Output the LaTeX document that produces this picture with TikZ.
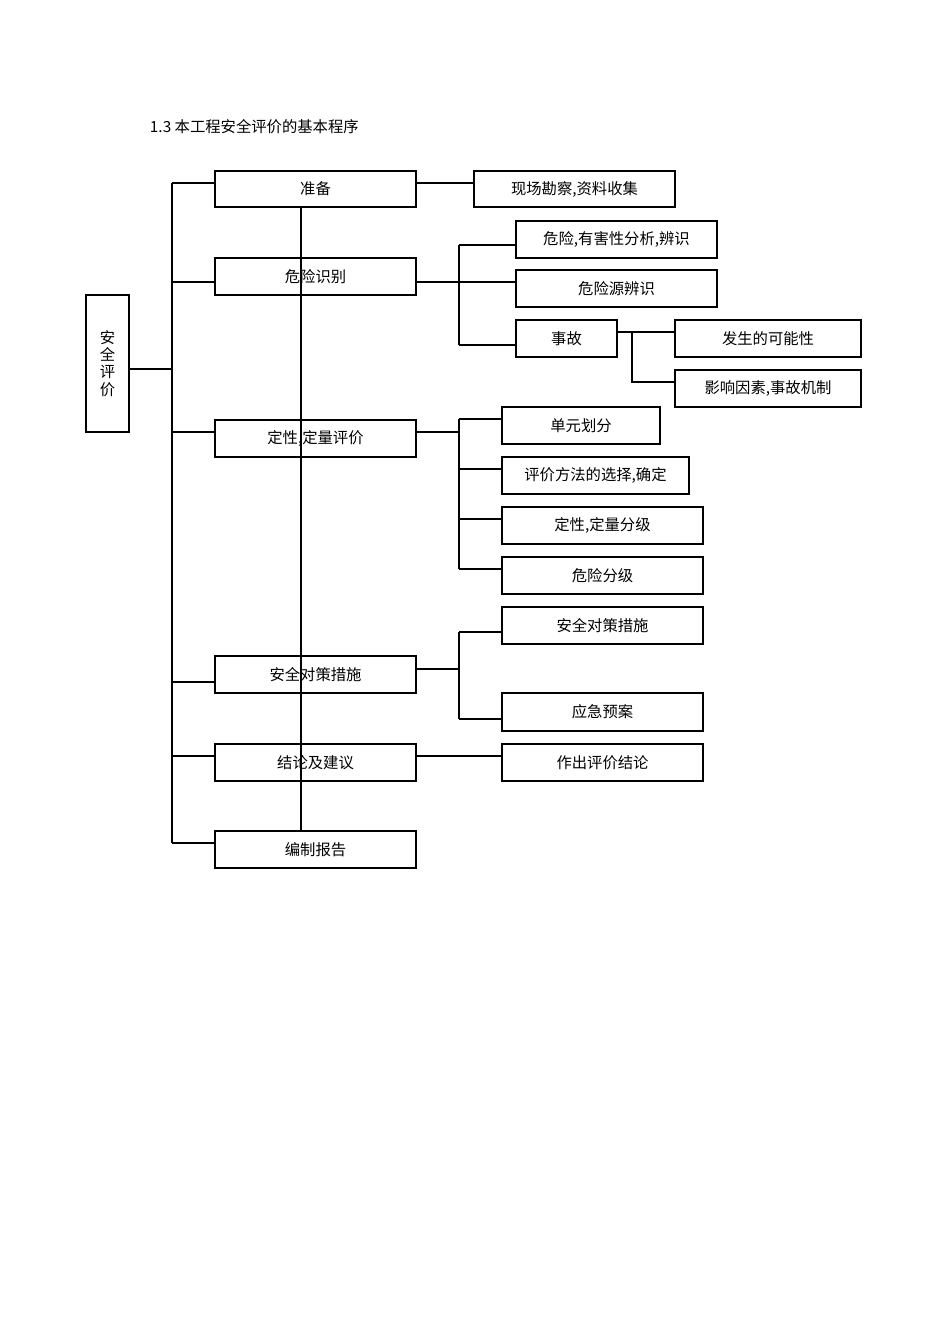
\documentclass[tikz,border=0pt]{standalone}
\usepackage{fontspec}
\setmainfont{Liberation Serif}
\newfontfamily\cjk{Noto Sans CJK SC}
\begin{document}
\begin{tikzpicture}[x=0.75pt,y=-0.75pt,line width=0.8pt,
  bx/.style={draw,inner sep=0pt,font=\cjk\fontsize{11.5}{13}\selectfont},
  ln/.style={draw}]
\useasboundingbox[fill=white] (0,0) rectangle (950,1344);
\node[anchor=west,font=\cjk\fontsize{11.5}{13}\selectfont] (title) at (145,127) {1.3 本工程安全评价的基本程序};
\newcommand\bx[6]{\node[bx,minimum width=#4*0.75pt-#2*0.75pt,minimum height=#5*0.75pt-#3*0.75pt] (#1) at ({(#2+#4)/2},{(#3+#5)/2}) {#6};}
\node[bx,minimum width=32.25pt,minimum height=102.75pt,align=center] (aq) at (107.5,363.5) {安\\全\\评\\价};
\bx{zb}{215}{171}{416}{207}{准备}
\bx{wx}{215}{258}{416}{295}{危险识别}
\bx{dx}{215}{420}{416}{457}{定性,定量评价}
\bx{dc}{215}{656}{416}{693}{安全对策措施}
\bx{jl}{215}{744}{416}{781}{结论及建议}
\bx{bz}{215}{831}{416}{868}{编制报告}
\bx{xc}{474}{171}{675}{207}{现场勘察,资料收集}
\bx{yh}{516}{221}{717}{258}{危险,有害性分析,辨识}
\bx{wy}{516}{270}{717}{307}{危险源辨识}
\bx{sg}{516}{320}{617}{357}{事故}
\bx{fs}{675}{320}{861}{357}{发生的可能性}
\bx{yx}{675}{370}{861}{407}{影响因素,事故机制}
\bx{dy}{502}{407}{660}{444}{单元划分}
\bx{pj}{502}{457}{689}{494}{评价方法的选择,确定}
\bx{fj}{502}{507}{703}{544}{定性,定量分级}
\bx{wf}{502}{557}{703}{594}{危险分级}
\bx{aqc}{502}{607}{703}{644}{安全对策措施}
\bx{yj}{502}{693}{703}{731}{应急预案}
\bx{zc}{502}{744}{703}{781}{作出评价结论}
% spine
\draw (172,183) -- (172,843);
\draw (aq.east |- 0,369) -- (172,369);
\foreach \n/\y in {zb/183,wx/282,dx/432,dc/682,jl/756,bz/843}{\draw (172,\y) -- (\n.west |- 0,\y);}
\draw (zb.south -| 301,0) -- (bz.north -| 301,0);
\draw (zb.east |- 0,183) -- (xc.west |- 0,183);
% hazard id
\draw (459,245) -- (459,345);
\draw (wx.east |- 0,282) -- (wy.west |- 0,282);
\draw (459,245) -- (yh.west |- 0,245);
\draw (459,345) -- (sg.west |- 0,345);
\draw (sg.east |- 0,332) -- (fs.west |- 0,332);
\draw (632,332) -- (632,382) -- (yx.west |- 0,382);
% evaluation
\draw (dx.east |- 0,432) -- (459,432);
\draw (459,419) -- (459,569);
\foreach \n/\y in {dy/419,pj/469,fj/519,wf/569}{\draw (459,\y) -- (\n.west |- 0,\y);}
% measures
\draw (dc.east |- 0,669) -- (459,669);
\draw (459,632) -- (459,719);
\draw (459,632) -- (aqc.west |- 0,632);
\draw (459,719) -- (yj.west |- 0,719);
\draw (jl.east |- 0,756) -- (zc.west |- 0,756);
\end{tikzpicture}
\end{document}
